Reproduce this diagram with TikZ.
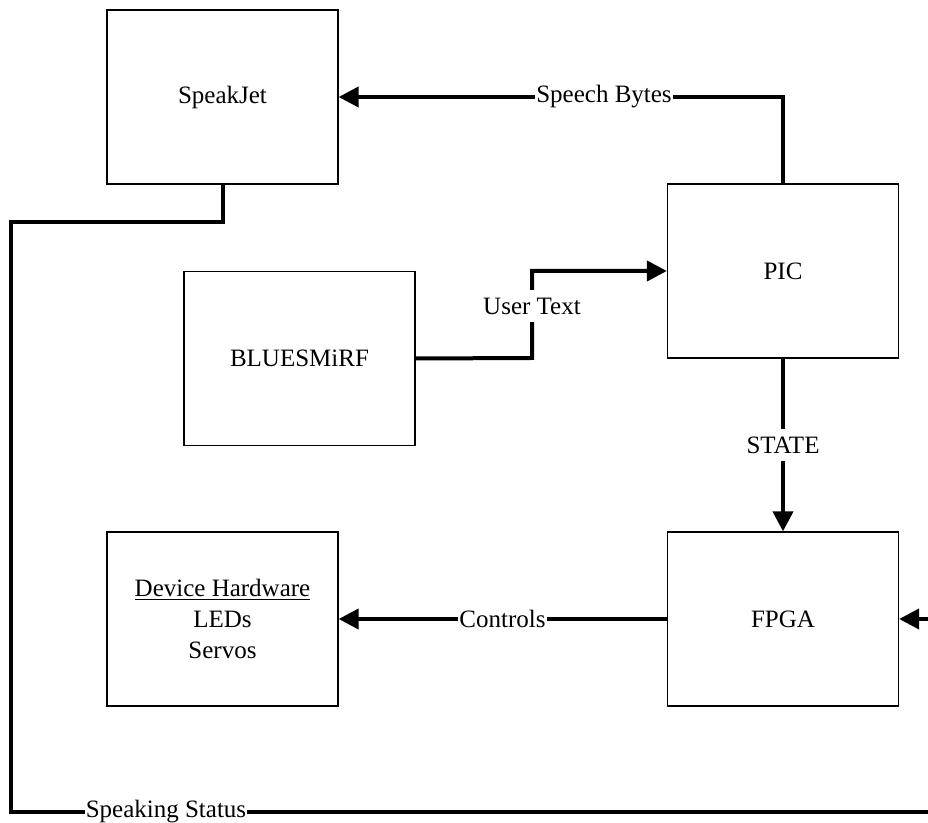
\documentclass[tikz,border=0pt]{standalone}
\usepackage{fontspec}
\setmainfont{Liberation Serif}
\usetikzlibrary{arrows.meta}
\begin{document}
\begin{tikzpicture}[x=0.5pt,y=-0.5pt,
  box/.style={draw=black,line width=0.65pt,minimum width=115.5pt,minimum height=87pt,
    inner sep=0pt,align=center,font=\fontsize{12.5}{15.5}\selectfont},
  conn/.style={line width=2pt,-{Triangle[length=10pt,width=10pt]}},
  lbl/.style={fill=white,inner xsep=0.5pt,inner ysep=0pt,minimum height=16pt,
    font=\fontsize{12.5}{15}\selectfont}]
\clip (0,0) rectangle (928,823);
\fill[white] (0,0) rectangle (928,823);
\node[box] (sj) at (222.5,97) {SpeakJet};
\node[box] (pic) at (783,271) {PIC};
\node[box] (blue) at (299.5,358.5) {BLUESMiRF};
\node[box] (dev) at (222.5,619) {\underline{Device Hardware}\\LEDs\\Servos};
\node[box] (fpga) at (783,619) {FPGA};
\coordinate (s1) at (11,222);
\coordinate (s2) at (11,812);
\coordinate (s3) at (933,812);
\coordinate (u1) at (532,358);
\coordinate (u2) at (532,271);
% connectors
\draw[conn] (pic.north) |- (sj.east);
\draw[conn] (blue.east) -- (u1) -- (u2) -- (pic.west);
\draw[conn] (pic.south) -- (fpga.north);
\draw[conn] (fpga.west) -- (dev.east);
\draw[conn] (sj.south) |- (s1) -- (s2) -- (s3) |- (fpga.east);
% labels
\node[lbl] (lsb) at (604,97) {Speech Bytes};
\node[lbl] (lut) at (532,306) {User Text};
\node[lbl] (lst) at (783,445) {STATE};
\node[lbl] (lct) at (502.5,619) {Controls};
\node[lbl] (lss) at (166,812) {Speaking Status};
\end{tikzpicture}
\end{document}
